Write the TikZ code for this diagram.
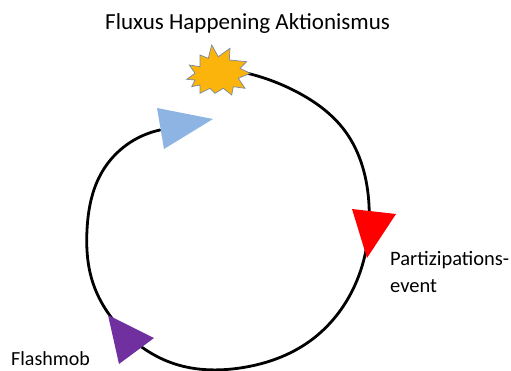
\documentclass[tikz,border=0pt]{standalone}
\usepackage{fontspec}
\setmainfont{Carlito}
\usetikzlibrary{hobby}
\definecolor{starfill}{RGB}{251,180,12}
\definecolor{starline}{RGB}{120,135,160}
\definecolor{bluetri}{RGB}{142,180,227}
\definecolor{redtri}{RGB}{255,0,0}
\definecolor{purpletri}{RGB}{112,48,160}
\begin{document}
\begin{tikzpicture}[x=1pt,y=-1pt,
  loopline/.style={line width=2.8pt, black, line cap=round},
  lbl/.style={anchor=base west, inner sep=0pt, font=\fontsize{20.5}{27}\selectfont},
  titlelbl/.style={anchor=base west, inner sep=0pt, font=\fontsize{23}{27}\selectfont}]
\useasboundingbox (0,0) rectangle (511,370);
% loop
\draw[loopline, use Hobby shortcut] (242,72) .. (297,92) .. (345,131) .. (369,205)
 .. (355,285) .. (310,341) .. (240,368) .. (175,364) .. (125,333) .. (92,280)
 .. (87,230) .. (102,172) .. (160,130);
% triangles
\fill[bluetri] (157,108) -- (213,119) -- (164,149) -- cycle;
\fill[redtri] (352,209) -- (396,214) -- (367,258) -- cycle;
\fill[purpletri] (108,315) -- (154,338) -- (119,364) -- cycle;
% star
\filldraw[fill=starfill, draw=starline, line width=0.7pt, line join=miter]
 (211.7,45) -- (218.3,56.7) -- (230,48.3) -- (229.3,60) -- (246.7,61.7) -- (240,68.3)
 -- (250,73.3) -- (238.3,78.3) -- (245,88.3) -- (233.3,86.7) -- (231.7,95) -- (223.3,88.3)
 -- (215,93.3) -- (210,88.3) -- (200,93.3) -- (200,85) -- (191.7,86.7) -- (195,80)
 -- (186.7,79.3) -- (195,73.3) -- (189.3,65) -- (200,66.7) -- (200,55) -- (208.3,58.3) -- cycle;
% labels
\node[titlelbl] (title) at (105,29) {Fluxus Happening Aktionismus};
\node[lbl] (part) at (390,265) {Partizipations-};
\node[lbl] (event) at (390,292) {event};
\node[lbl, font=\fontsize{20}{24}\selectfont] (flash) at (11,365) {Flashmob};
\end{tikzpicture}
\end{document}
